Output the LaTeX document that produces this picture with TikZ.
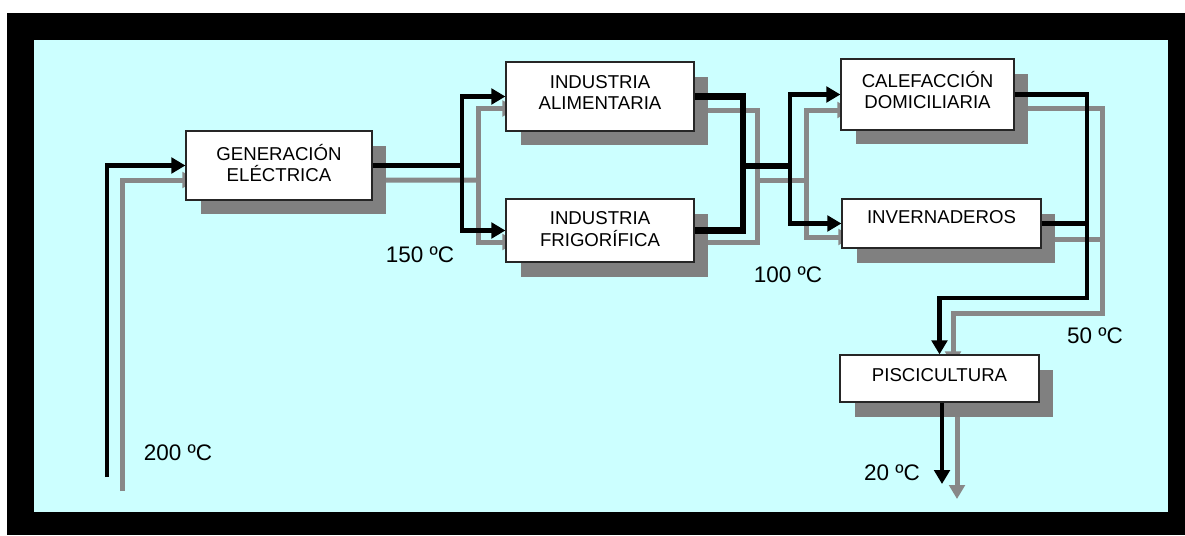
\documentclass[tikz,border=0pt]{standalone}
\usepackage{fontspec}
\setmainfont{Liberation Sans}
\usetikzlibrary{arrows.meta,shadows,calc}
\definecolor{cielo}{HTML}{CCFFFF}
\definecolor{sombra}{HTML}{808080}
\definecolor{grisflujo}{HTML}{888888}
\pgfdeclarelayer{fondo}
\pgfdeclarelayer{grises}
\pgfsetlayers{fondo,grises,main}

\begin{document}
\begin{tikzpicture}[x=0.02cm,y=-0.02cm,
    caja/.style={draw=black!85,line width=0.7pt,fill=white,align=center,inner sep=0pt,
      font=\fontsize{10.6}{12}\selectfont,
      drop shadow={shadow xshift=0.29cm,shadow yshift=-0.29cm,fill=sombra,opacity=1}},
    temp/.style={font=\fontsize{12.8}{15}\selectfont,inner sep=0pt},
    negro/.style={line width=0.09cm,black},
    grueso/.style={line width=0.13cm,black},
    gris/.style={line width=0.1cm,grisflujo},
    flecha/.style={-{Triangle[length=0.28cm,width=0.31cm]}}]
    \useasboundingbox (0,0) rectangle (1185,535);
    \begin{pgfonlayer}{fondo}
      \fill[black] (7,13) rectangle (1185,535);
      \fill[cielo] (34,40) rectangle (1168,512);
    \end{pgfonlayer}
    \node[caja,minimum width=3.72cm,minimum height=1.38cm,text depth=3.2pt] (gen) at (279,165.5) {GENERACIÓN\\ELÉCTRICA};
    \node[caja,minimum width=3.76cm,minimum height=1.38cm,text depth=4.5pt] (alim) at (600,96.5) {INDUSTRIA\\ALIMENTARIA};
    \node[caja,minimum width=3.76cm,minimum height=1.26cm,text depth=1.7pt] (frig) at (600,230.5) {INDUSTRIA\\FRIGORÍFICA};
    \node[caja,minimum width=3.46cm,minimum height=1.42cm,text depth=5pt] (calef) at (927.5,94.5) {CALEFACCIÓN\\DOMICILIARIA};
    \node[caja,minimum width=3.98cm,minimum height=0.98cm,text depth=0.26cm] (inver) at (941.5,223.5) {INVERNADEROS};
    \node[caja,minimum width=3.98cm,minimum height=0.94cm,text depth=0.14cm] (pisc) at (939.5,378.5) {PISCICULTURA};
    \node[temp] (t200) at (178,453) {200 ºC};
    \node[temp] (t150) at (420,255) {150 ºC};
    \node[temp] (t100) at (788,275) {100 ºC};
    \node[temp] (t50) at (1095,336) {50 ºC};
    \node[temp] (t20) at (892,473) {20 ºC};
    \coordinate (e200n) at (107,477);
    \coordinate (e200g) at (122,491);
    \coordinate (j1) at (462,165.5);
    \coordinate (j2) at (743,166);
    \coordinate (j3) at (790,166);
    \coordinate (j4) at (1087,298);
    \coordinate (g1) at (478,180);
    \coordinate (g2) at (757,180);
    \coordinate (g3) at (806,180);
    \coordinate (g4) at (1102,313);
    \coordinate (s20n) at (942,484);
    \coordinate (s20g) at (957,499);
    \begin{pgfonlayer}{grises}
      \draw[gris,flecha] (e200g) |- ($(gen.west)+(11,14.5)$);
      \draw[gris] ($(gen.east)+(0,14.5)$) -- (g1);
      \draw[gris,flecha] (g1) |- ($(alim.west)+(11,12)$);
      \draw[gris,flecha] (g1) |- ($(frig.west)+(11,11.5)$);
      \draw[gris] ($(alim.east)+(0,13.5)$) -| (g2) |- ($(frig.east)+(0,11.5)$);
      \draw[gris] (g2) -- (g3);
      \draw[gris,flecha] (g3) |- ($(calef.west)+(11,15.5)$);
      \draw[gris,flecha] (g3) |- ($(inver.west)+(11,13.5)$);
      \draw[gris,flecha] ($(calef.east)+(0,14)$) -| (g4) -| ($(pisc.north)+(13.5,11)$);
      \draw[gris] ($(inver.east)+(0,15.5)$) -| (g4);
      \draw[gris,flecha] (s20g |- pisc.south) -- (s20g);
    \end{pgfonlayer}
    \draw[negro,flecha] (e200n) |- (gen.west);
    \draw[negro] (gen.east) -- (j1);
    \draw[negro,flecha] (j1) |- (alim.west);
    \draw[negro,flecha] (j1) |- (frig.west);
    \draw[grueso] (alim.east) -| (j2) |- (frig.east);
    \draw[grueso] (j2) -- (j3);
    \draw[negro,flecha] (j3) |- (calef.west);
    \draw[negro,flecha] (j3) |- (inver.west);
    \draw[negro,flecha] (calef.east) -| (j4) -| (pisc.north);
    \draw[negro] (inver.east) -| (j4);
    \draw[negro,flecha] (s20n |- pisc.south) -- (s20n);
\end{tikzpicture}
\end{document}
